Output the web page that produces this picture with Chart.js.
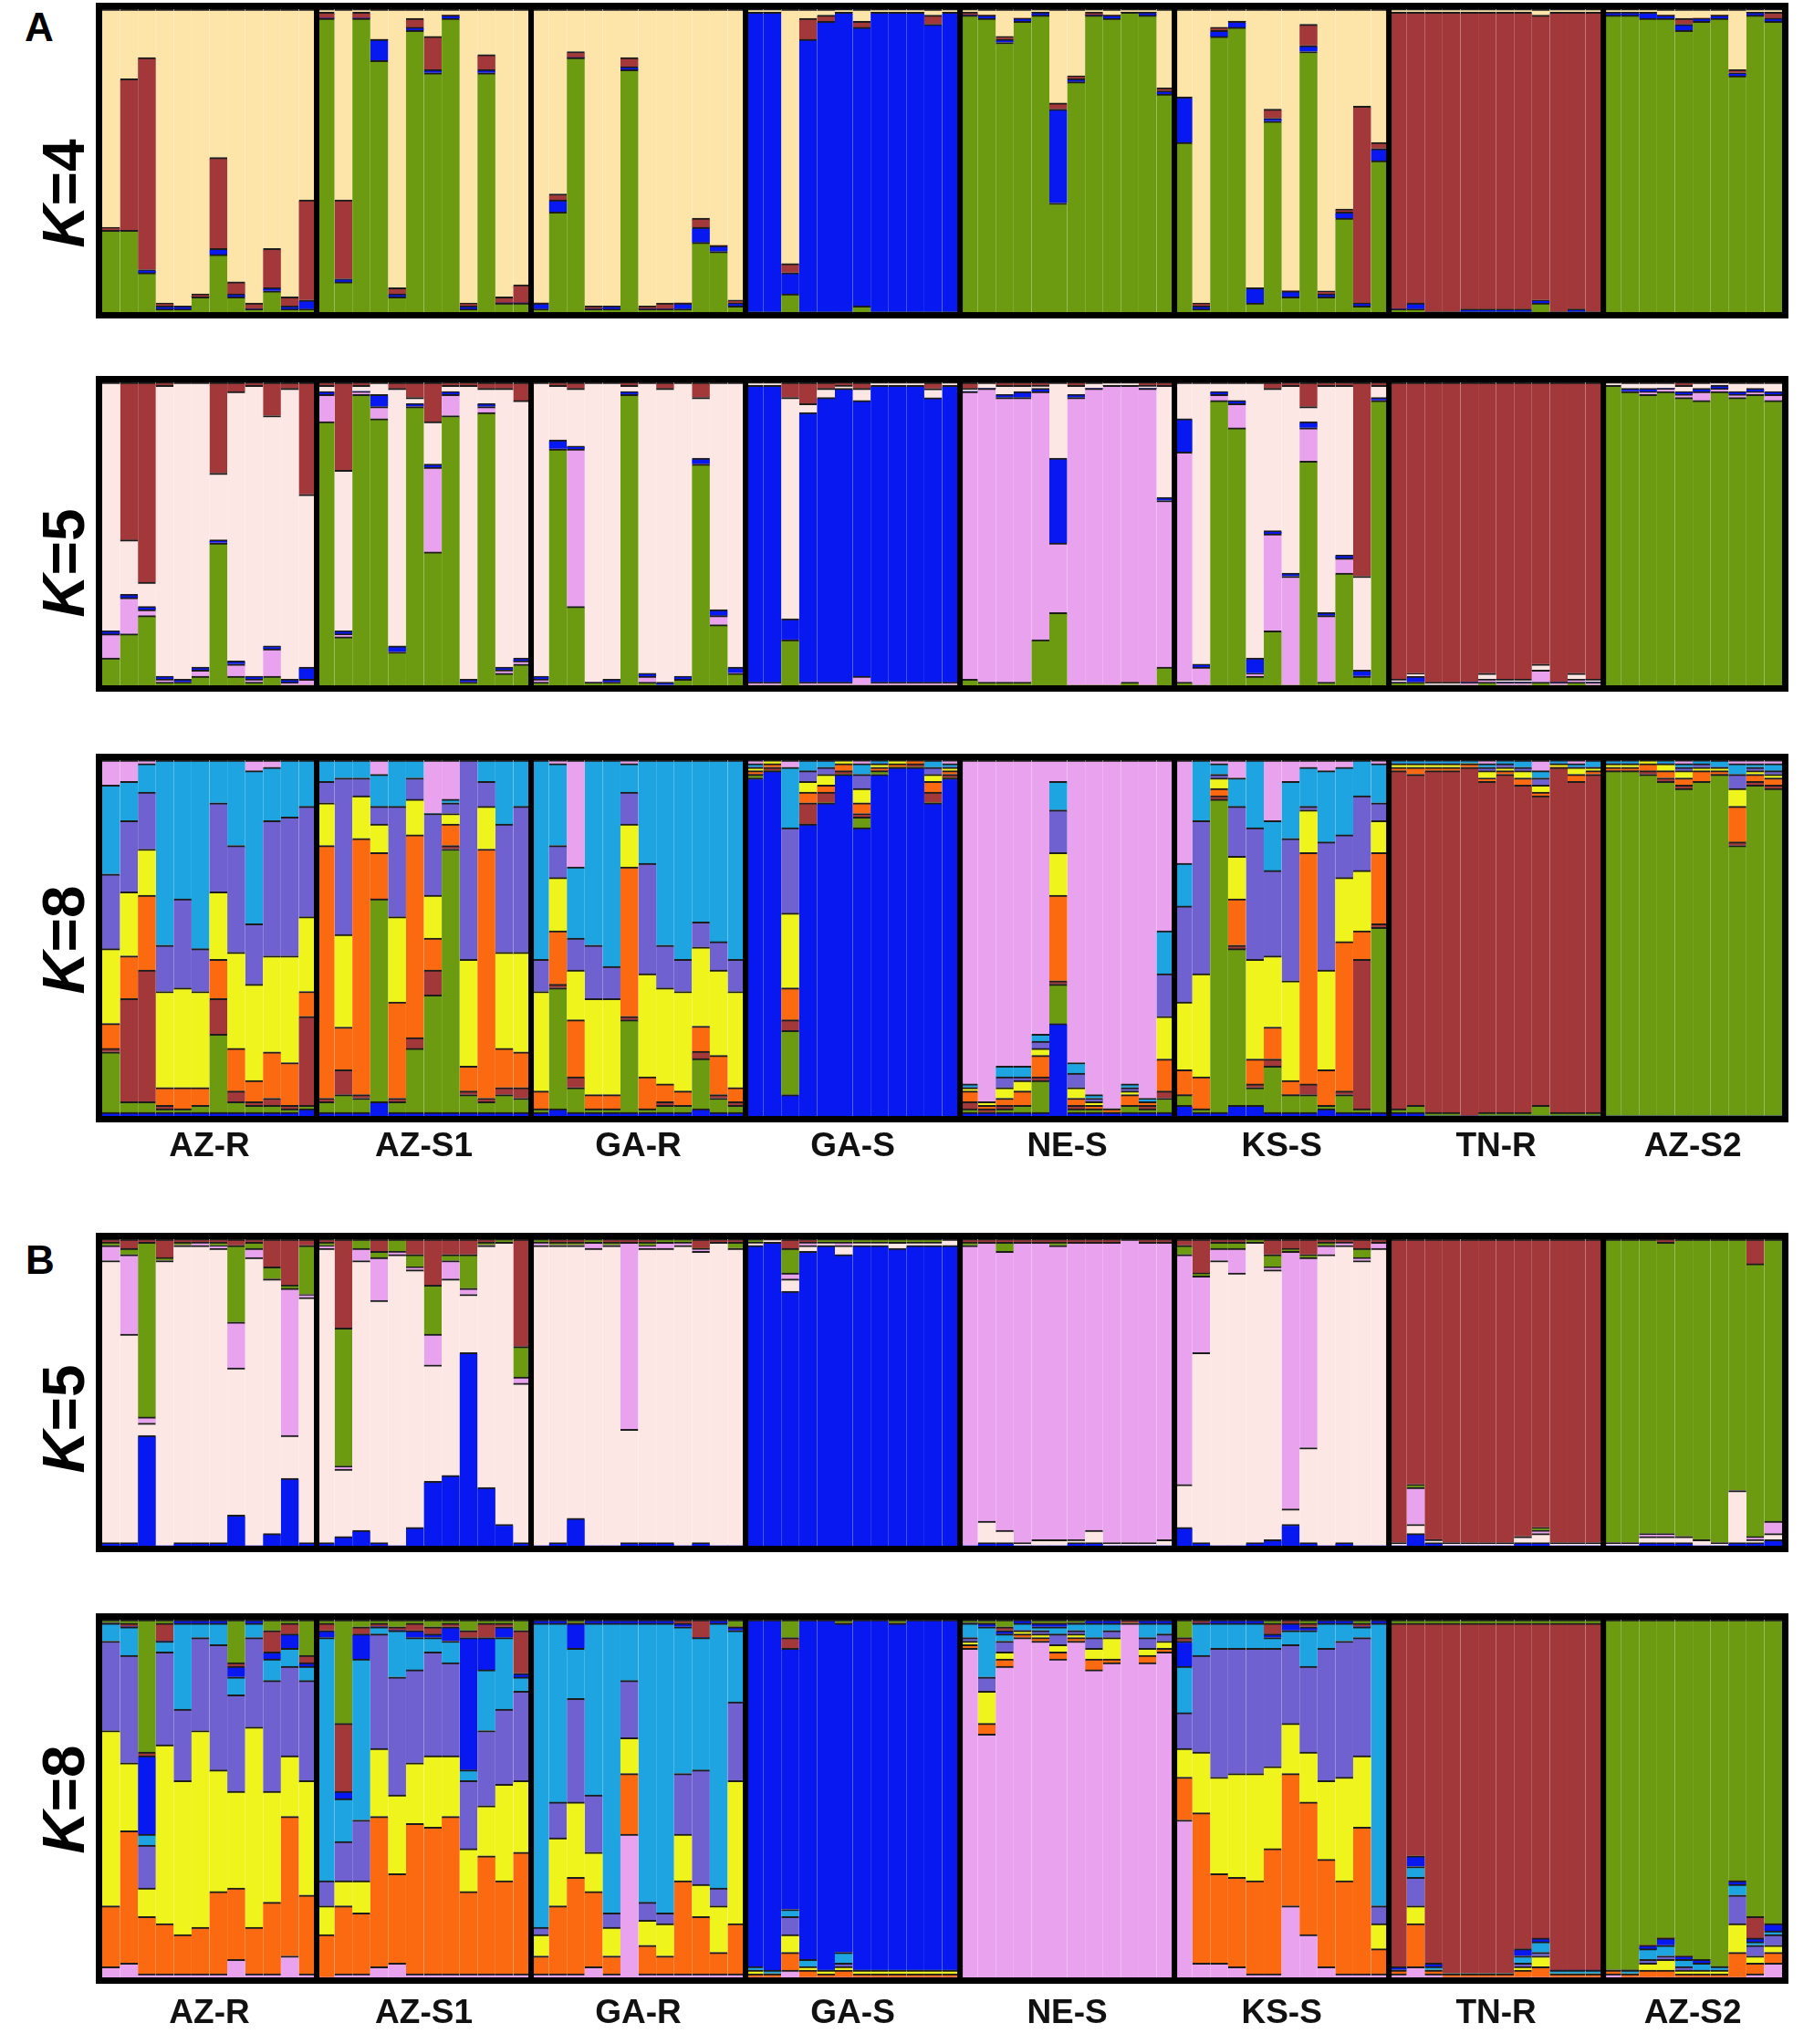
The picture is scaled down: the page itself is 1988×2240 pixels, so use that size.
<!DOCTYPE html>
<html>
<head>
<meta charset="utf-8">
<script src="https://cdn.jsdelivr.net/npm/chart.js@4.4.1/dist/chart.umd.min.js"></script>
<style>
  body { margin: 0; background: #fff; width: 1988px; height: 2240px; position: relative; overflow: hidden; }
  canvas { position: absolute; left: 105px; }
  .tag { position: absolute; font: bold 44px "Liberation Sans", Arial, sans-serif; line-height: 1; }
  .k { position: absolute; font: bold 64px "Liberation Sans", Arial, sans-serif; line-height: 1;
       white-space: nowrap; transform: translate(-50%, -50%) rotate(-90deg); }
</style>
</head>
<body>
<div class="tag" style="left:27px;top:8px">A</div>
<div class="tag" style="left:28px;top:1359px">B</div>

<div class="k" style="left:70px;top:212px"><i>K</i>=4</div>
<div class="k" style="left:70px;top:617px"><i>K</i>=5</div>
<div class="k" style="left:70px;top:1030px"><i>K</i>=8</div>
<div class="k" style="left:70px;top:1555px"><i>K</i>=5</div>
<div class="k" style="left:70px;top:1972px"><i>K</i>=8</div>

<canvas id="cA4" width="1855" height="404" style="top:3px"></canvas>
<canvas id="cA5" width="1855" height="404" style="top:412px"></canvas>
<canvas id="cA8" width="1855" height="455" style="top:826px"></canvas>
<canvas id="cB5" width="1855" height="408" style="top:1351px"></canvas>
<canvas id="cB8" width="1855" height="457" style="top:1768px"></canvas>

<script>
// populations (individui per popolazione)
var popNames = ['AZ-R', 'AZ-S1', 'GA-R', 'GA-S', 'NE-S', 'KS-S', 'TN-R', 'AZ-S2'];
var popSizes = [12, 12, 12, 12, 12, 12, 12, 10];

// colori dei cluster
var tan = '#fde4a9', brown = '#a3383a', green = '#6c9b12', blue = '#0818f0', pink = '#fde7e5',
    lilac = '#e9a2ee', cyan = '#1ea5e1', purple = '#6f61cf', yellow = '#eff41c', orange = '#fb6a10';

// A, K=4 (bottom -> top: green, blue, brown, tan)
var a4Green = [27,27,13,1,1,5,19,5,1,7,1,1, 97,10,97,83,5,93,79,97,1,79,3,3, 1,33,84,1,1,80,1,1,1,23,20,2, 0,0,6,0,0,0,2,0,0,0,0,0,
               98,97,89,96,98,36,76,98,97,99,98,72, 56,1,91,94,3,63,5,86,5,31,2,50, 1,1,0,0,0,0,0,0,3,0,0,0, 98,98,97,97,93,96,97,78,98,96];
var a4Blue  = [0,0,1,1,1,0,2,1,0,1,1,3, 0,1,0,7,1,1,1,1,1,1,0,0, 2,4,0,0,1,1,0,0,2,5,2,1, 99,99,7,90,96,99,92,99,99,99,95,99,
               0,1,1,1,1,31,1,0,1,0,1,1, 15,1,2,2,5,1,2,2,1,2,1,4, 0,2,0,0,1,1,1,1,1,0,1,0, 1,1,2,1,2,1,1,1,1,1];
var a4Brown = [1,50,70,1,0,1,30,4,2,13,3,33, 2,26,2,0,2,3,11,0,1,5,2,6, 0,2,2,1,0,3,1,2,0,3,0,1, 0,0,3,7,2,0,2,0,0,0,3,0,
               1,0,1,0,0,2,1,1,0,0,0,1, 0,1,1,0,0,3,0,7,1,1,65,2, 98,96,99,99,98,98,98,98,94,99,98,99, 0,0,0,0,2,0,0,1,0,2];
var a4Tan   = [72,23,16,97,98,94,49,90,97,79,95,63, 1,63,1,10,92,3,9,2,97,15,95,91, 97,61,14,98,98,16,98,97,97,69,78,96, 1,1,84,3,2,1,4,1,1,1,2,1,
               1,2,9,3,1,31,22,1,2,1,1,26, 29,97,6,4,92,33,93,5,93,66,32,44, 1,1,1,1,1,1,1,1,2,1,1,1, 1,1,1,2,3,3,2,20,1,1];

// A, K=5 (green, lilac, blue, pink, brown)
var a5Green = [9,17,23,1,1,3,47,3,1,3,0,0, 87,16,96,88,11,92,44,89,1,90,4,7, 1,78,26,1,1,96,1,0,2,73,20,4, 0,0,15,0,0,0,0,0,0,0,0,0,
               2,1,1,1,15,24,0,0,0,1,0,6, 1,0,94,85,3,18,0,74,1,37,3,94, 1,1,0,0,0,1,0,0,1,0,1,0, 99,97,96,97,95,94,97,95,96,94];
var a5Lilac = [8,12,2,1,0,2,0,4,1,9,1,2, 9,1,1,4,0,0,28,7,0,2,1,1, 1,0,52,0,0,0,2,0,0,0,3,0, 1,1,0,1,1,1,3,1,1,1,1,1,
               95,97,94,94,82,23,95,98,99,98,98,55, 76,6,2,8,1,32,36,11,22,5,0,0, 0,0,0,0,1,1,1,1,4,1,1,1, 0,0,1,1,1,3,1,1,1,2];
var a5Blue  = [1,1,1,1,1,1,1,1,1,1,1,4, 1,1,0,4,2,1,1,1,1,1,1,1, 1,3,1,0,1,1,1,1,1,2,2,2, 98,98,7,89,94,97,91,98,98,98,93,98,
               0,0,1,2,1,28,1,0,0,0,0,1, 11,1,1,1,5,1,1,2,1,1,2,1, 0,2,0,0,0,0,0,0,0,0,0,0, 0,1,1,0,1,1,1,1,1,1];
var a5Pink  = [82,18,8,96,98,94,22,89,96,76,96,57, 2,53,2,4,85,2,14,2,97,5,92,85, 97,18,19,99,98,2,96,97,97,20,75,94, 1,1,73,3,3,1,4,1,1,1,3,1,
               1,2,3,2,1,25,3,2,1,1,1,37, 12,93,3,6,91,47,62,5,75,56,31,4, 1,1,1,1,0,2,1,1,2,0,2,1, 1,2,2,2,2,2,1,3,2,3];
var a5Brown = [0,52,66,1,0,0,30,3,1,11,2,37, 1,29,1,0,2,5,13,1,1,2,2,6, 0,1,2,0,0,1,0,2,0,5,0,0, 0,0,5,7,2,1,2,0,0,0,2,0,
               2,0,1,1,1,0,1,0,0,0,1,1, 0,0,0,0,0,2,1,8,1,1,64,1, 98,96,99,99,99,96,98,98,93,99,96,98, 0,0,0,0,1,0,0,0,0,0];

// A, K=8 (blue, green, brown, orange, yellow, purple, cyan, lilac)
var a8Blue   = [1,1,1,1,1,1,1,1,1,1,1,2, 1,1,1,4,1,1,1,1,1,1,1,1, 1,2,1,1,1,1,1,1,1,2,1,1, 95,97,6,82,88,96,81,96,98,98,88,95,
                1,1,1,1,1,26,1,1,1,1,1,1, 3,1,1,3,3,1,1,1,2,1,1,1, 1,1,0,0,0,0,0,0,0,0,0,0, 0,0,0,0,0,0,0,0,0,0];
var a8Green  = [17,3,3,1,1,2,22,3,2,2,1,1, 3,5,4,57,3,18,33,74,5,3,5,4, 1,34,7,1,1,26,1,2,2,14,4,2, 1,0,18,0,0,0,3,1,0,0,0,0,
                1,0,1,2,9,11,1,1,0,2,1,4, 3,1,88,44,5,13,5,5,1,5,1,52, 1,2,1,1,0,1,1,1,3,1,1,1, 97,97,96,94,92,94,96,76,93,92];
var a8Brown  = [1,29,37,1,0,0,10,3,1,2,1,25, 1,7,1,0,1,3,7,1,1,1,2,3, 0,1,3,0,0,1,0,1,0,2,1,1, 0,1,3,6,3,1,1,0,0,1,3,1,
                2,1,1,0,1,1,1,0,0,0,1,2, 0,0,1,1,1,2,0,3,0,1,42,1, 95,93,96,96,98,93,95,92,87,97,93,95, 0,0,1,1,1,0,0,1,1,1];
var a8Orange = [7,12,21,5,6,5,11,12,6,13,12,7, 71,12,72,13,27,57,9,6,7,70,11,10, 5,15,16,4,4,42,9,5,4,7,11,4, 1,1,9,3,2,2,3,1,1,1,3,1,
                3,1,2,4,6,24,2,1,1,3,1,9, 7,9,2,13,7,9,4,65,10,42,8,20, 1,2,1,1,1,1,1,2,1,0,2,1, 1,1,2,2,2,3,1,10,2,2];
var a8Yellow = [21,18,13,27,28,27,19,27,27,27,30,21, 12,26,12,8,24,10,12,3,30,12,27,28, 28,15,14,27,27,12,29,27,28,22,24,27, 1,1,21,3,3,1,4,1,1,0,2,1,
                1,1,3,3,2,12,3,1,0,1,0,12, 19,29,3,12,28,20,28,12,28,18,17,9, 1,1,1,1,0,2,1,2,2,1,2,1, 1,1,1,2,2,1,1,5,1,1];
var a8Purple = [21,20,16,13,25,12,25,30,17,38,39,31, 6,44,5,5,31,6,23,3,56,7,36,41, 9,9,9,15,9,9,31,12,9,7,8,9, 0,0,24,3,2,0,4,0,0,0,2,0,
                0,0,3,1,2,12,4,1,0,1,0,12, 27,43,1,14,37,24,40,1,36,12,21,5, 0,0,0,0,0,1,1,1,2,0,0,0, 0,0,0,0,1,1,0,4,1,1];
var a8Cyan   = [25,11,8,52,39,53,12,24,43,15,16,13, 6,5,5,9,13,5,0,1,0,6,18,13, 56,23,20,52,58,8,29,52,56,45,51,56, 1,0,17,3,2,0,3,1,0,0,2,1,
                1,0,3,3,2,8,3,1,0,1,1,12, 12,17,3,8,19,14,16,11,20,19,10,11, 1,1,1,1,1,1,1,2,2,1,1,2, 1,1,0,1,1,1,2,3,1,2];
var a8Lilac  = [7,6,1,0,0,0,0,0,3,2,0,0, 0,0,0,4,0,0,15,11,0,0,0,0, 0,1,30,0,0,1,0,0,0,0,0,0, 1,0,2,0,0,0,1,0,0,0,0,1,
                91,96,86,86,77,6,85,94,98,91,95,48, 29,0,1,5,0,17,6,2,3,2,0,1, 0,0,0,0,0,1,0,0,3,0,1,0, 0,0,0,0,1,0,0,1,1,1];

// B, K=5 (blue, pink, lilac, green, brown)
var b5Blue  = [1,1,36,0,1,1,1,10,0,4,22,1, 1,3,5,1,0,6,21,23,63,19,7,1, 0,1,9,0,0,1,1,1,0,1,0,0, 98,99,83,96,98,95,98,98,97,98,98,98,
               0,1,1,0,0,0,1,1,0,0,0,0, 6,1,0,0,1,2,7,1,0,1,0,0, 0,4,1,0,0,0,0,1,1,0,0,0, 0,0,1,1,1,0,0,1,1,2];
var b5Pink  = [92,68,4,93,97,97,96,48,94,83,14,80, 96,22,88,79,95,84,38,64,19,79,92,52, 98,97,89,97,98,37,96,96,98,95,99,97, 1,1,4,2,1,3,1,1,2,1,1,2,
               0,7,4,1,2,2,1,4,1,1,1,2, 14,62,93,89,98,88,5,31,95,97,93,97, 1,3,1,1,1,1,1,2,3,1,1,1, 1,1,2,2,2,2,1,17,1,2];
var b5Lilac = [5,26,2,0,0,1,1,15,3,0,48,1, 1,1,4,14,1,1,10,6,2,0,0,2, 1,0,0,2,0,61,1,2,1,1,0,0, 0,0,2,1,0,1,0,0,0,0,0,0,
               98,91,91,98,97,96,97,94,98,99,98,97, 75,25,4,8,0,1,84,62,3,1,1,2, 0,12,0,0,0,0,0,0,1,0,0,0, 0,0,1,1,0,0,0,0,1,4];
var b5Green = [1,2,57,1,1,0,1,25,2,4,1,16, 1,45,3,2,4,4,16,2,11,1,1,10, 1,1,1,1,1,0,1,1,1,0,0,2, 1,0,8,0,1,1,1,1,1,1,1,0,
               1,0,3,0,0,1,0,0,0,0,0,0, 3,1,2,2,1,4,1,1,1,0,3,0, 0,1,0,0,0,0,0,0,1,0,0,0, 99,99,96,95,97,98,99,82,89,92];
var b5Brown = [1,3,1,6,1,1,1,2,1,9,15,2, 1,29,0,4,0,5,15,5,5,1,0,35, 0,1,1,0,1,1,1,0,0,3,1,1, 0,0,3,1,0,0,0,0,0,0,0,0,
               1,1,1,1,1,1,1,1,1,0,1,1, 2,11,1,1,0,5,3,5,1,1,3,1, 99,80,98,99,99,99,99,97,94,99,99,99, 0,0,0,1,0,0,0,0,8,0];

// B, K=8 (lilac, orange, yellow, purple, cyan, blue, brown, green)
var b8Lilac  = [3,4,1,1,1,1,1,5,1,1,6,1, 0,1,1,3,4,1,1,1,1,1,1,1, 1,1,1,3,1,40,1,1,1,1,1,1, 0,0,2,0,0,0,0,0,0,0,0,0,
                92,68,87,95,94,89,94,86,88,99,88,91, 44,4,4,3,1,1,20,12,3,1,1,1, 1,3,1,0,0,0,0,0,0,0,0,0, 1,0,0,0,0,0,0,0,1,4];
var b8Orange = [17,37,16,14,11,13,23,20,13,20,39,22, 12,19,17,42,25,42,41,44,23,33,26,34, 5,19,27,21,5,17,8,5,26,16,6,14, 1,1,5,2,1,2,1,1,1,1,1,1,
                1,3,2,1,1,2,1,3,1,0,2,1, 12,42,25,25,26,35,37,37,30,26,41,7, 1,12,1,1,1,1,1,2,3,1,1,1, 1,1,2,2,1,1,1,7,3,3];
var b8Yellow = [49,19,8,50,43,55,34,27,56,31,17,32, 8,7,9,19,22,17,20,17,12,14,27,20, 6,19,21,11,8,10,7,9,13,9,13,40, 1,0,5,1,1,1,1,1,1,1,1,1,
                1,9,2,1,1,2,1,3,6,0,2,2, 8,17,27,29,30,23,14,14,22,29,20,7, 0,5,0,0,0,0,0,1,3,0,0,0, 0,0,2,3,1,1,1,8,2,2];
var b8Purple = [25,30,12,26,20,26,35,27,25,31,25,28, 7,11,17,32,33,26,29,26,19,21,21,25, 2,10,29,16,4,16,5,3,17,32,5,22, 0,0,5,0,0,1,0,0,0,0,0,0,
                1,4,3,0,1,3,1,3,2,0,3,2, 10,27,36,35,35,33,22,24,37,38,33,5, 0,8,0,0,0,0,0,1,1,0,0,0, 0,0,1,1,1,0,0,8,3,3];
var b8Cyan   = [5,8,3,3,24,4,6,5,4,6,5,4, 68,12,45,2,13,9,4,6,3,17,20,4, 85,50,14,48,81,16,78,81,41,37,74,20, 1,1,2,2,0,3,0,0,0,0,0,0,
                4,14,2,2,1,2,2,4,2,0,4,3, 13,9,7,7,7,3,4,10,7,5,3,79, 0,3,1,0,0,0,0,2,3,1,1,1, 0,1,3,3,2,2,1,3,1,1];
var b8Blue   = [0,0,22,0,1,1,1,3,1,2,4,1, 2,2,7,0,0,2,1,4,37,9,3,1, 1,1,7,1,1,1,1,1,1,0,1,1, 97,98,73,95,98,92,98,98,97,98,98,98,
                0,1,1,1,1,1,0,1,1,0,1,1, 7,0,1,1,1,1,2,1,1,1,0,1, 1,3,1,0,0,0,0,2,1,0,0,0, 0,0,1,2,1,1,0,1,1,2];
var b8Brown  = [0,1,1,5,0,0,0,1,0,6,3,2, 2,19,2,1,1,2,2,1,2,4,1,12, 0,0,0,0,0,0,0,0,1,5,0,0, 0,0,3,0,0,0,0,0,0,0,0,0,
                0,0,1,0,0,0,0,0,0,1,0,0, 1,1,0,0,0,3,1,1,0,0,1,0, 96,65,95,98,98,98,98,91,88,97,97,97, 0,0,0,0,0,0,0,0,6,0];
var b8Green  = [1,1,37,1,0,0,0,12,0,3,1,10, 1,29,2,1,2,1,2,1,3,1,1,3, 0,0,1,0,0,0,0,0,0,0,0,2, 0,0,5,0,0,1,0,0,1,0,0,0,
                1,1,2,0,1,1,1,0,0,0,0,0, 5,0,0,0,0,1,0,1,0,0,1,0, 1,1,1,1,1,1,1,1,1,1,1,1, 98,98,91,89,94,95,97,73,83,85];

// etichette individui e centri delle popolazioni
var indLabels = [];
var popCenters = [];
var start = 0;
popNames.forEach(function(name, p) {
    for (var i = 0; i < popSizes[p]; i++) {
        indLabels.push(name + ' ' + (i + 1));
    }
    popCenters.push(start + (popSizes[p] - 1) / 2);
    start += popSizes[p];
});

// cornice nera e separatori tra popolazioni
var framePlugin = {
    id: 'frame',
    afterDatasetsDraw: function(chart) {
        var ctx = chart.ctx;
        var a = chart.chartArea;
        var x = chart.scales.x;
        ctx.save();
        ctx.strokeStyle = '#000';
        ctx.lineWidth = 6;
        var idx = 0;
        for (var p = 0; p < popSizes.length - 1; p++) {
            idx += popSizes[p];
            var bx = (x.getPixelForValue(idx - 1) + x.getPixelForValue(idx)) / 2;
            ctx.beginPath();
            ctx.moveTo(bx, a.top);
            ctx.lineTo(bx, a.bottom);
            ctx.stroke();
        }
        ctx.lineWidth = 7;
        ctx.strokeRect(a.left - 3.5, a.top - 3.5, a.right - a.left + 7, a.bottom - a.top + 7);
        ctx.restore();
    }
};

function disegna(id, series, colors, withLabels, labelPad) {
    var n = indLabels.length;
    var totals = [];
    for (var i = 0; i < n; i++) {
        var t = 0;
        series.forEach(function(s) { t += s[i]; });
        totals.push(t);
    }
    var datasets = series.map(function(s, k) {
        return {
            data: s.map(function(v, i) { return v / totals[i] * 100; }),
            backgroundColor: colors[k],
            borderColor: '#1c1c1c',
            borderWidth: {top: 2, right: 0, bottom: 0, left: 0},
            borderSkipped: false,
            barPercentage: 1,
            categoryPercentage: 1
        };
    });
    return new Chart(document.getElementById(id), {
        type: 'bar',
        data: {labels: indLabels, datasets: datasets},
        options: {
            responsive: false,
            animation: false,
            devicePixelRatio: 1,
            layout: {padding: {left: 7, right: 7, top: 7, bottom: withLabels ? 0 : 7}},
            plugins: {legend: {display: false}, tooltip: {enabled: false}},
            scales: {
                x: {display: false, stacked: true},
                y: {display: false, stacked: true, min: 0, max: 100},
                pop: {
                    type: 'linear',
                    position: 'bottom',
                    display: withLabels,
                    offset: false,
                    bounds: 'data',
                    min: -0.5,
                    max: n - 0.5,
                    grid: {display: false, drawTicks: false, offset: false},
                    border: {display: false},
                    afterBuildTicks: function(axis) {
                        axis.ticks = popCenters.map(function(v) { return {value: v}; });
                    },
                    afterFit: function(axis) { axis.height = 58; },
                    ticks: {
                        autoSkip: false,
                        maxRotation: 0,
                        padding: labelPad,
                        color: '#111',
                        font: {family: '"Liberation Sans", Arial, sans-serif', size: 37, weight: 'bold'},
                        callback: function(value) {
                            for (var p = 0; p < popCenters.length; p++) {
                                if (Math.abs(popCenters[p] - value) < 0.01) return popNames[p];
                            }
                            return '';
                        }
                    }
                }
            }
        },
        plugins: [framePlugin]
    });
}

disegna('cA4', [a4Green, a4Blue, a4Brown, a4Tan], [green, blue, brown, tan], false, 0);
disegna('cA5', [a5Green, a5Lilac, a5Blue, a5Pink, a5Brown], [green, lilac, blue, pink, brown], false, 0);
disegna('cA8', [a8Blue, a8Green, a8Brown, a8Orange, a8Yellow, a8Purple, a8Cyan, a8Lilac],
        [blue, green, brown, orange, yellow, purple, cyan, lilac], true, 12);
disegna('cB5', [b5Blue, b5Pink, b5Lilac, b5Green, b5Brown], [blue, pink, lilac, green, brown], false, 0);
disegna('cB8', [b8Lilac, b8Orange, b8Yellow, b8Purple, b8Cyan, b8Blue, b8Brown, b8Green],
        [lilac, orange, yellow, purple, cyan, blue, brown, green], true, 18);
</script>
</body>
</html>
